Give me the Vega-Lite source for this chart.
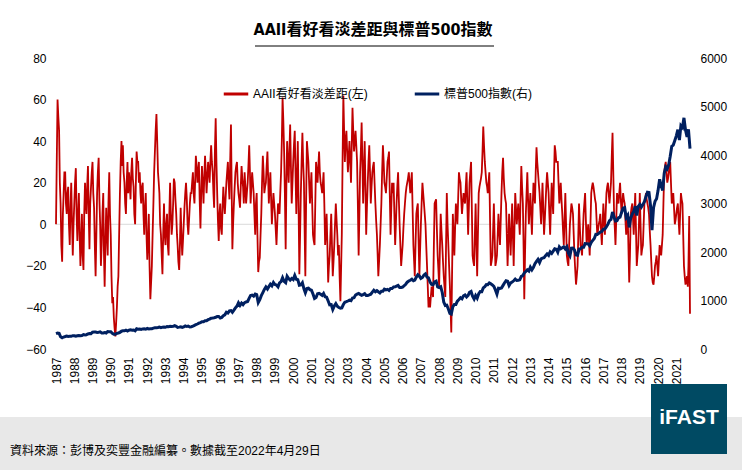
{
  "$schema": "https://vega.github.io/schema/vega-lite/v6.json",
  "width": 634,
  "height": 291,
  "autosize": {"type": "none"},
  "padding": {"left": 56, "top": 58, "right": 52, "bottom": 121},
  "background": "white",
  "config": {
    "font": "Liberation Sans, Arial, Noto Sans CJK TC, sans-serif",
    "view": {"stroke": null},
    "axisX": {
      "title": null,
      "format": "%Y",
      "labelAngle": 270,
      "labelAlign": "right",
      "labelBaseline": "middle",
      "labelFontSize": 12,
      "labelColor": "black",
      "labelPadding": 8,
      "labelOverlap": false,
      "labelFlush": false,
      "labelBound": false,
      "ticks": false,
      "domain": false,
      "grid": false
    }
  },
  "title": {
    "text": "AAII看好看淡差距與標普500指數",
    "font": "Liberation Sans Narrow, DejaVu Sans Condensed, Noto Sans CJK TC, sans-serif",
    "fontSize": 16,
    "fontWeight": "bold",
    "color": "black",
    "anchor": "middle",
    "offset": 8
  },
  "data": {
    "values": [
      {"d":"1987-07","a":0,"s":318},{"d":"1987-08","a":60,"s":330},{"d":"1987-09","a":45,"s":322},{"d":"1987-10","a":10,"s":252},{"d":"1987-11","a":-18,"s":230},{"d":"1987-12","a":15,"s":247},
      {"d":"1988-01","a":25,"s":257},{"d":"1988-02","a":5,"s":268},{"d":"1988-03","a":18,"s":259},{"d":"1988-04","a":-10,"s":261},{"d":"1988-05","a":20,"s":262},{"d":"1988-06","a":-15,"s":274},{"d":"1988-07","a":10,"s":272},{"d":"1988-08","a":27,"s":262},{"d":"1988-09","a":-8,"s":272},{"d":"1988-10","a":15,"s":279},{"d":"1988-11","a":-20,"s":274},{"d":"1988-12","a":5,"s":278},
      {"d":"1989-01","a":-22,"s":297},{"d":"1989-02","a":20,"s":289},{"d":"1989-03","a":5,"s":295},{"d":"1989-04","a":28,"s":310},{"d":"1989-05","a":-12,"s":321},{"d":"1989-06","a":18,"s":318},{"d":"1989-07","a":30,"s":346},{"d":"1989-08","a":8,"s":351},{"d":"1989-09","a":-25,"s":349},{"d":"1989-10","a":15,"s":340},{"d":"1989-11","a":32,"s":346},{"d":"1989-12","a":0,"s":353},
      {"d":"1990-01","a":-10,"s":329},{"d":"1990-02","a":15,"s":332},{"d":"1990-03","a":-30,"s":340},{"d":"1990-04","a":8,"s":331},{"d":"1990-05","a":-15,"s":361},{"d":"1990-06","a":25,"s":358},{"d":"1990-07","a":-5,"s":356},{"d":"1990-08","a":-38,"s":323},{"d":"1990-09","a":-45,"s":306},{"d":"1990-10","a":-54,"s":304},{"d":"1990-11","a":-40,"s":322},{"d":"1990-12","a":-25,"s":330},
      {"d":"1991-01","a":15,"s":344},{"d":"1991-02","a":40,"s":367},{"d":"1991-03","a":38,"s":375},{"d":"1991-04","a":20,"s":375},{"d":"1991-05","a":5,"s":390},{"d":"1991-06","a":30,"s":371},{"d":"1991-07","a":25,"s":388},{"d":"1991-08","a":12,"s":395},{"d":"1991-09","a":32,"s":388},{"d":"1991-10","a":18,"s":392},{"d":"1991-11","a":0,"s":375},{"d":"1991-12","a":35,"s":417},
      {"d":"1992-01","a":30,"s":409},{"d":"1992-02","a":25,"s":413},{"d":"1992-03","a":10,"s":404},{"d":"1992-04","a":20,"s":414},{"d":"1992-05","a":-5,"s":415},{"d":"1992-06","a":15,"s":408},{"d":"1992-07","a":-17,"s":424},{"d":"1992-08","a":5,"s":414},{"d":"1992-09","a":-36,"s":418},{"d":"1992-10","a":-20,"s":419},{"d":"1992-11","a":10,"s":431},{"d":"1992-12","a":35,"s":436},
      {"d":"1993-01","a":53,"s":439},{"d":"1993-02","a":25,"s":443},{"d":"1993-03","a":15,"s":452},{"d":"1993-04","a":-5,"s":440},{"d":"1993-05","a":-24,"s":450},{"d":"1993-06","a":10,"s":451},{"d":"1993-07","a":-10,"s":448},{"d":"1993-08","a":5,"s":464},{"d":"1993-09","a":-15,"s":459},{"d":"1993-10","a":20,"s":468},{"d":"1993-11","a":-5,"s":462},{"d":"1993-12","a":10,"s":466},
      {"d":"1994-01","a":20,"s":482},{"d":"1994-02","a":5,"s":467},{"d":"1994-03","a":-10,"s":446},{"d":"1994-04","a":-22,"s":451},{"d":"1994-05","a":8,"s":457},{"d":"1994-06","a":-15,"s":444},{"d":"1994-07","a":0,"s":458},{"d":"1994-08","a":15,"s":475},{"d":"1994-09","a":12,"s":463},{"d":"1994-10","a":-5,"s":472},{"d":"1994-11","a":10,"s":454},{"d":"1994-12","a":15,"s":459},
      {"d":"1995-01","a":25,"s":470},{"d":"1995-02","a":10,"s":487},{"d":"1995-03","a":33,"s":501},{"d":"1995-04","a":20,"s":515},{"d":"1995-05","a":30,"s":533},{"d":"1995-06","a":-2,"s":545},{"d":"1995-07","a":28,"s":562},{"d":"1995-08","a":10,"s":562},{"d":"1995-09","a":33,"s":584},{"d":"1995-10","a":15,"s":582},{"d":"1995-11","a":30,"s":605},{"d":"1995-12","a":20,"s":616},
      {"d":"1996-01","a":38,"s":636},{"d":"1996-02","a":25,"s":640},{"d":"1996-03","a":8,"s":646},{"d":"1996-04","a":51,"s":654},{"d":"1996-05","a":15,"s":669},{"d":"1996-06","a":-8,"s":671},{"d":"1996-07","a":10,"s":640},{"d":"1996-08","a":-5,"s":652},{"d":"1996-09","a":18,"s":687},{"d":"1996-10","a":5,"s":705},{"d":"1996-11","a":20,"s":757},{"d":"1996-12","a":30,"s":741},
      {"d":"1997-01","a":12,"s":786},{"d":"1997-02","a":48,"s":791},{"d":"1997-03","a":-12,"s":757},{"d":"1997-04","a":10,"s":801},{"d":"1997-05","a":25,"s":848},{"d":"1997-06","a":30,"s":885},{"d":"1997-07","a":15,"s":954},{"d":"1997-08","a":8,"s":899},{"d":"1997-09","a":28,"s":947},{"d":"1997-10","a":18,"s":915},{"d":"1997-11","a":25,"s":955},{"d":"1997-12","a":10,"s":970},
      {"d":"1998-01","a":20,"s":980},{"d":"1998-02","a":38,"s":1049},{"d":"1998-03","a":10,"s":1102},{"d":"1998-04","a":25,"s":1112},{"d":"1998-05","a":15,"s":1091},{"d":"1998-06","a":-5,"s":1134},{"d":"1998-07","a":15,"s":1121},{"d":"1998-08","a":-23,"s":957},{"d":"1998-09","a":-16,"s":1017},{"d":"1998-10","a":5,"s":1099},{"d":"1998-11","a":33,"s":1164},{"d":"1998-12","a":15,"s":1229},
      {"d":"1999-01","a":20,"s":1280},{"d":"1999-02","a":35,"s":1238},{"d":"1999-03","a":10,"s":1286},{"d":"1999-04","a":25,"s":1335},{"d":"1999-05","a":0,"s":1302},{"d":"1999-06","a":15,"s":1373},{"d":"1999-07","a":5,"s":1329},{"d":"1999-08","a":-10,"s":1320},{"d":"1999-09","a":10,"s":1283},{"d":"1999-10","a":5,"s":1363},{"d":"1999-11","a":25,"s":1389},{"d":"1999-12","a":61,"s":1469},
      {"d":"2000-01","a":35,"s":1394},{"d":"2000-02","a":-12,"s":1366},{"d":"2000-03","a":40,"s":1499},{"d":"2000-04","a":20,"s":1452},{"d":"2000-05","a":48,"s":1421},{"d":"2000-06","a":10,"s":1455},{"d":"2000-07","a":30,"s":1431},{"d":"2000-08","a":45,"s":1518},{"d":"2000-09","a":5,"s":1437},{"d":"2000-10","a":40,"s":1429},{"d":"2000-11","a":-24,"s":1315},{"d":"2000-12","a":15,"s":1320},
      {"d":"2001-01","a":44,"s":1366},{"d":"2001-02","a":20,"s":1240},{"d":"2001-03","a":-25,"s":1160},{"d":"2001-04","a":40,"s":1249},{"d":"2001-05","a":30,"s":1256},{"d":"2001-06","a":10,"s":1224},{"d":"2001-07","a":25,"s":1211},{"d":"2001-08","a":-5,"s":1134},{"d":"2001-09","a":-10,"s":1041},{"d":"2001-10","a":30,"s":1060},{"d":"2001-11","a":20,"s":1139},{"d":"2001-12","a":35,"s":1148},
      {"d":"2002-01","a":20,"s":1130},{"d":"2002-02","a":15,"s":1107},{"d":"2002-03","a":25,"s":1147},{"d":"2002-04","a":-10,"s":1077},{"d":"2002-05","a":5,"s":1067},{"d":"2002-06","a":-28,"s":990},{"d":"2002-07","a":-15,"s":912},{"d":"2002-08","a":5,"s":916},{"d":"2002-09","a":-25,"s":815},{"d":"2002-10","a":-10,"s":886},{"d":"2002-11","a":10,"s":936},{"d":"2002-12","a":-5,"s":880},
      {"d":"2003-01","a":-10,"s":856},{"d":"2003-02","a":-37,"s":841},{"d":"2003-03","a":-5,"s":848},{"d":"2003-04","a":62,"s":917},{"d":"2003-05","a":30,"s":964},{"d":"2003-06","a":45,"s":975},{"d":"2003-07","a":25,"s":990},{"d":"2003-08","a":40,"s":1008},{"d":"2003-09","a":20,"s":996},{"d":"2003-10","a":56,"s":1051},{"d":"2003-11","a":35,"s":1058},{"d":"2003-12","a":45,"s":1112},
      {"d":"2004-01","a":30,"s":1131},{"d":"2004-02","a":-15,"s":1145},{"d":"2004-03","a":25,"s":1126},{"d":"2004-04","a":49,"s":1107},{"d":"2004-05","a":10,"s":1121},{"d":"2004-06","a":40,"s":1141},{"d":"2004-07","a":-5,"s":1102},{"d":"2004-08","a":20,"s":1104},{"d":"2004-09","a":38,"s":1115},{"d":"2004-10","a":10,"s":1130},{"d":"2004-11","a":25,"s":1174},{"d":"2004-12","a":30,"s":1212},
      {"d":"2005-01","a":10,"s":1181},{"d":"2005-02","a":-5,"s":1204},{"d":"2005-03","a":-25,"s":1181},{"d":"2005-04","a":-10,"s":1157},{"d":"2005-05","a":10,"s":1192},{"d":"2005-06","a":38,"s":1191},{"d":"2005-07","a":20,"s":1234},{"d":"2005-08","a":15,"s":1220},{"d":"2005-09","a":30,"s":1229},{"d":"2005-10","a":35,"s":1207},{"d":"2005-11","a":-5,"s":1249},{"d":"2005-12","a":20,"s":1248},
      {"d":"2006-01","a":20,"s":1280},{"d":"2006-02","a":-10,"s":1281},{"d":"2006-03","a":10,"s":1295},{"d":"2006-04","a":25,"s":1311},{"d":"2006-05","a":0,"s":1270},{"d":"2006-06","a":-20,"s":1270},{"d":"2006-07","a":-10,"s":1277},{"d":"2006-08","a":5,"s":1304},{"d":"2006-09","a":15,"s":1336},{"d":"2006-10","a":20,"s":1378},{"d":"2006-11","a":25,"s":1401},{"d":"2006-12","a":15,"s":1418},
      {"d":"2007-01","a":25,"s":1438},{"d":"2007-02","a":-10,"s":1407},{"d":"2007-03","a":-25,"s":1421},{"d":"2007-04","a":5,"s":1482},{"d":"2007-05","a":10,"s":1531},{"d":"2007-06","a":-25,"s":1503},{"d":"2007-07","a":0,"s":1455},{"d":"2007-08","a":20,"s":1474},{"d":"2007-09","a":10,"s":1527},{"d":"2007-10","a":0,"s":1549},{"d":"2007-11","a":-20,"s":1481},{"d":"2007-12","a":-40,"s":1468},
      {"d":"2008-01","a":-40,"s":1379},{"d":"2008-02","a":-30,"s":1331},{"d":"2008-03","a":-35,"s":1323},{"d":"2008-04","a":10,"s":1386},{"d":"2008-05","a":12,"s":1400},{"d":"2008-06","a":-15,"s":1280},{"d":"2008-07","a":-30,"s":1267},{"d":"2008-08","a":5,"s":1283},{"d":"2008-09","a":-10,"s":1166},{"d":"2008-10","a":-25,"s":969},{"d":"2008-11","a":-35,"s":896},{"d":"2008-12","a":15,"s":903},
      {"d":"2009-01","a":-10,"s":826},{"d":"2009-02","a":-30,"s":735},{"d":"2009-03","a":-52,"s":720},{"d":"2009-04","a":5,"s":873},{"d":"2009-05","a":-15,"s":919},{"d":"2009-06","a":10,"s":919},{"d":"2009-07","a":0,"s":987},{"d":"2009-08","a":25,"s":1021},{"d":"2009-09","a":20,"s":1057},{"d":"2009-10","a":5,"s":1036},{"d":"2009-11","a":15,"s":1096},{"d":"2009-12","a":10,"s":1115},
      {"d":"2010-01","a":25,"s":1074},{"d":"2010-02","a":-5,"s":1104},{"d":"2010-03","a":20,"s":1169},{"d":"2010-04","a":30,"s":1187},{"d":"2010-05","a":-15,"s":1089},{"d":"2010-06","a":-20,"s":1031},{"d":"2010-07","a":10,"s":1102},{"d":"2010-08","a":-25,"s":1049},{"d":"2010-09","a":15,"s":1141},{"d":"2010-10","a":20,"s":1183},{"d":"2010-11","a":25,"s":1181},{"d":"2010-12","a":47,"s":1258},
      {"d":"2011-01","a":30,"s":1286},{"d":"2011-02","a":20,"s":1327},{"d":"2011-03","a":15,"s":1326},{"d":"2011-04","a":25,"s":1364},{"d":"2011-05","a":-20,"s":1345},{"d":"2011-06","a":-15,"s":1321},{"d":"2011-07","a":10,"s":1292},{"d":"2011-08","a":-20,"s":1219},{"d":"2011-09","a":-15,"s":1131},{"d":"2011-10","a":5,"s":1253},{"d":"2011-11","a":-10,"s":1247},{"d":"2011-12","a":15,"s":1258},
      {"d":"2012-01","a":32,"s":1312},{"d":"2012-02","a":15,"s":1366},{"d":"2012-03","a":10,"s":1408},{"d":"2012-04","a":-20,"s":1398},{"d":"2012-05","a":5,"s":1310},{"d":"2012-06","a":-15,"s":1362},{"d":"2012-07","a":10,"s":1379},{"d":"2012-08","a":-20,"s":1407},{"d":"2012-09","a":15,"s":1441},{"d":"2012-10","a":0,"s":1412},{"d":"2012-11","a":10,"s":1416},{"d":"2012-12","a":-5,"s":1426},
      {"d":"2013-01","a":28,"s":1498},{"d":"2013-02","a":10,"s":1515},{"d":"2013-03","a":-36,"s":1569},{"d":"2013-04","a":5,"s":1598},{"d":"2013-05","a":25,"s":1631},{"d":"2013-06","a":0,"s":1606},{"d":"2013-07","a":15,"s":1686},{"d":"2013-08","a":-5,"s":1633},{"d":"2013-09","a":20,"s":1682},{"d":"2013-10","a":10,"s":1757},{"d":"2013-11","a":37,"s":1806},{"d":"2013-12","a":25,"s":1848},
      {"d":"2014-01","a":15,"s":1783},{"d":"2014-02","a":0,"s":1859},{"d":"2014-03","a":20,"s":1872},{"d":"2014-04","a":-5,"s":1884},{"d":"2014-05","a":10,"s":1924},{"d":"2014-06","a":25,"s":1960},{"d":"2014-07","a":15,"s":1931},{"d":"2014-08","a":-5,"s":2003},{"d":"2014-09","a":20,"s":1972},{"d":"2014-10","a":5,"s":2018},{"d":"2014-11","a":38,"s":2068},{"d":"2014-12","a":30,"s":2059},
      {"d":"2015-01","a":30,"s":1995},{"d":"2015-02","a":10,"s":2105},{"d":"2015-03","a":20,"s":2068},{"d":"2015-04","a":5,"s":2086},{"d":"2015-05","a":-10,"s":2107},{"d":"2015-06","a":15,"s":2063},{"d":"2015-07","a":-15,"s":2104},{"d":"2015-08","a":-20,"s":1972},{"d":"2015-09","a":0,"s":1920},{"d":"2015-10","a":10,"s":2079},{"d":"2015-11","a":5,"s":2080},{"d":"2015-12","a":-15,"s":2044},
      {"d":"2016-01","a":-29,"s":1940},{"d":"2016-02","a":-20,"s":1932},{"d":"2016-03","a":10,"s":2060},{"d":"2016-04","a":-10,"s":2065},{"d":"2016-05","a":-15,"s":2097},{"d":"2016-06","a":5,"s":2099},{"d":"2016-07","a":15,"s":2174},{"d":"2016-08","a":-10,"s":2171},{"d":"2016-09","a":0,"s":2168},{"d":"2016-10","a":-15,"s":2126},{"d":"2016-11","a":15,"s":2199},{"d":"2016-12","a":20,"s":2239},
      {"d":"2017-01","a":15,"s":2279},{"d":"2017-02","a":10,"s":2364},{"d":"2017-03","a":-5,"s":2363},{"d":"2017-04","a":0,"s":2384},{"d":"2017-05","a":5,"s":2412},{"d":"2017-06","a":-10,"s":2423},{"d":"2017-07","a":10,"s":2470},{"d":"2017-08","a":-5,"s":2472},{"d":"2017-09","a":15,"s":2519},{"d":"2017-10","a":20,"s":2575},{"d":"2017-11","a":10,"s":2648},{"d":"2017-12","a":20,"s":2674},
      {"d":"2018-01","a":44,"s":2824},{"d":"2018-02","a":5,"s":2714},{"d":"2018-03","a":-10,"s":2641},{"d":"2018-04","a":15,"s":2648},{"d":"2018-05","a":10,"s":2705},{"d":"2018-06","a":20,"s":2718},{"d":"2018-07","a":5,"s":2816},{"d":"2018-08","a":15,"s":2902},{"d":"2018-09","a":10,"s":2914},{"d":"2018-10","a":-5,"s":2712},{"d":"2018-11","a":5,"s":2760},{"d":"2018-12","a":-28,"s":2507},
      {"d":"2019-01","a":5,"s":2704},{"d":"2019-02","a":10,"s":2784},{"d":"2019-03","a":-5,"s":2834},{"d":"2019-04","a":15,"s":2946},{"d":"2019-05","a":-20,"s":2752},{"d":"2019-06","a":-10,"s":2942},{"d":"2019-07","a":15,"s":2980},{"d":"2019-08","a":-15,"s":2926},{"d":"2019-09","a":-10,"s":2977},{"d":"2019-10","a":10,"s":3038},{"d":"2019-11","a":15,"s":3141},{"d":"2019-12","a":10,"s":3231},
      {"d":"2020-01","a":5,"s":3226},{"d":"2020-02","a":-10,"s":2954},{"d":"2020-03","a":-25,"s":2450},{"d":"2020-04","a":-29,"s":2912},{"d":"2020-05","a":-20,"s":3044},{"d":"2020-06","a":-15,"s":3100},{"d":"2020-07","a":-25,"s":3271},{"d":"2020-08","a":-10,"s":3500},{"d":"2020-09","a":-15,"s":3363},{"d":"2020-10","a":-5,"s":3270},{"d":"2020-11","a":25,"s":3622},{"d":"2020-12","a":30,"s":3756},
      {"d":"2021-01","a":20,"s":3714},{"d":"2021-02","a":25,"s":3811},{"d":"2021-03","a":30,"s":3973},{"d":"2021-04","a":10,"s":4181},{"d":"2021-05","a":15,"s":4204},{"d":"2021-06","a":0,"s":4298},{"d":"2021-07","a":5,"s":4395},{"d":"2021-08","a":10,"s":4523},{"d":"2021-09","a":-5,"s":4308},{"d":"2021-10","a":15,"s":4605},{"d":"2021-11","a":10,"s":4567},{"d":"2021-12","a":-20,"s":4766},
      {"d":"2022-01","a":-29,"s":4516},{"d":"2022-02","a":-25,"s":4374},{"d":"2022-03","a":-20,"s":4530},{"d":"2022-04","a":-43,"s":4132},
      {"d":"1987-07-16","a":30},{"d":"1987-08-16","a":52},{"d":"1987-09-16","a":20},{"d":"1987-10-16","a":-10},{"d":"1987-11-16","a":5},{"d":"1987-12-16","a":25},
      {"d":"1988-01-16","a":10},{"d":"1988-02-16","a":15},{"d":"1988-03-16","a":0},{"d":"1988-04-16","a":8},{"d":"1988-05-16","a":2},{"d":"1988-06-16","a":0},{"d":"1988-07-16","a":20},{"d":"1988-08-16","a":5},{"d":"1988-09-16","a":5},{"d":"1988-10-16","a":-5},{"d":"1988-11-16","a":-8},{"d":"1988-12-16","a":-15},
      {"d":"1989-01-16","a":5},{"d":"1989-02-16","a":10},{"d":"1989-03-16","a":18},{"d":"1989-04-16","a":5},{"d":"1989-05-16","a":10},{"d":"1989-06-16","a":25},{"d":"1989-07-16","a":15},{"d":"1989-08-16","a":-10},{"d":"1989-09-16","a":-5},{"d":"1989-10-16","a":25},{"d":"1989-11-16","a":12},{"d":"1989-12-16","a":-20},
      {"d":"1990-01-16","a":5},{"d":"1990-02-16","a":-15},{"d":"1990-03-16","a":-10},{"d":"1990-04-16","a":-5},{"d":"1990-05-16","a":10},{"d":"1990-06-16","a":5},{"d":"1990-07-16","a":-25},{"d":"1990-08-16","a":-35},{"d":"1990-09-16","a":-50},{"d":"1990-10-16","a":-48},{"d":"1990-11-16","a":-30},{"d":"1990-12-16","a":-5},
      {"d":"1991-01-16","a":30},{"d":"1991-02-16","a":28},{"d":"1991-03-16","a":25},{"d":"1991-04-16","a":10},{"d":"1991-05-16","a":20},{"d":"1991-06-16","a":15},{"d":"1991-07-16","a":20},{"d":"1991-08-16","a":25},{"d":"1991-09-16","a":22},{"d":"1991-10-16","a":5},{"d":"1991-11-16","a":20},{"d":"1991-12-16","a":30},
      {"d":"1992-01-16","a":20},{"d":"1992-02-16","a":15},{"d":"1992-03-16","a":18},{"d":"1992-04-16","a":5},{"d":"1992-05-16","a":8},{"d":"1992-06-16","a":-5},{"d":"1992-07-16","a":-8},{"d":"1992-08-16","a":-20},{"d":"1992-09-16","a":-28},{"d":"1992-10-16","a":-5},{"d":"1992-11-16","a":25},{"d":"1992-12-16","a":45},
      {"d":"1993-01-16","a":40},{"d":"1993-02-16","a":20},{"d":"1993-03-16","a":0},{"d":"1993-04-16","a":-15},{"d":"1993-05-16","a":-5},{"d":"1993-06-16","a":-5},{"d":"1993-07-16","a":0},{"d":"1993-08-16","a":-10},{"d":"1993-09-16","a":5},{"d":"1993-10-16","a":5},{"d":"1993-11-16","a":0},{"d":"1993-12-16","a":22},
      {"d":"1994-01-16","a":12},{"d":"1994-02-16","a":-5},{"d":"1994-03-16","a":-18},{"d":"1994-04-16","a":-10},{"d":"1994-05-16","a":-5},{"d":"1994-06-16","a":-8},{"d":"1994-07-16","a":8},{"d":"1994-08-16","a":20},{"d":"1994-09-16","a":0},{"d":"1994-10-16","a":2},{"d":"1994-11-16","a":15},{"d":"1994-12-16","a":20},
      {"d":"1995-01-16","a":15},{"d":"1995-02-16","a":22},{"d":"1995-03-16","a":28},{"d":"1995-04-16","a":25},{"d":"1995-05-16","a":12},{"d":"1995-06-16","a":15},{"d":"1995-07-16","a":20},{"d":"1995-08-16","a":22},{"d":"1995-09-16","a":25},{"d":"1995-10-16","a":22},{"d":"1995-11-16","a":25},{"d":"1995-12-16","a":30},
      {"d":"1996-01-16","a":30},{"d":"1996-02-16","a":15},{"d":"1996-03-16","a":35},{"d":"1996-04-16","a":30},{"d":"1996-05-16","a":2},{"d":"1996-06-16","a":5},{"d":"1996-07-16","a":-2},{"d":"1996-08-16","a":8},{"d":"1996-09-16","a":10},{"d":"1996-10-16","a":12},{"d":"1996-11-16","a":25},{"d":"1996-12-16","a":20},
      {"d":"1997-01-16","a":30},{"d":"1997-02-16","a":15},{"d":"1997-03-16","a":0},{"d":"1997-04-16","a":18},{"d":"1997-05-16","a":28},{"d":"1997-06-16","a":20},{"d":"1997-07-16","a":12},{"d":"1997-08-16","a":18},{"d":"1997-09-16","a":22},{"d":"1997-10-16","a":10},{"d":"1997-11-16","a":18},{"d":"1997-12-16","a":15},
      {"d":"1998-01-16","a":28},{"d":"1998-02-16","a":25},{"d":"1998-03-16","a":18},{"d":"1998-04-16","a":20},{"d":"1998-05-16","a":5},{"d":"1998-06-16","a":10},{"d":"1998-07-16","a":-5},{"d":"1998-08-16","a":-18},{"d":"1998-09-16","a":-5},{"d":"1998-10-16","a":20},{"d":"1998-11-16","a":25},{"d":"1998-12-16","a":18},
      {"d":"1999-01-16","a":28},{"d":"1999-02-16","a":22},{"d":"1999-03-16","a":18},{"d":"1999-04-16","a":12},{"d":"1999-05-16","a":8},{"d":"1999-06-16","a":10},{"d":"1999-07-16","a":-2},{"d":"1999-08-16","a":0},{"d":"1999-09-16","a":8},{"d":"1999-10-16","a":15},{"d":"1999-11-16","a":40},{"d":"1999-12-16","a":50},
      {"d":"2000-01-16","a":15},{"d":"2000-02-16","a":20},{"d":"2000-03-16","a":30},{"d":"2000-04-16","a":35},{"d":"2000-05-16","a":28},{"d":"2000-06-16","a":20},{"d":"2000-07-16","a":38},{"d":"2000-08-16","a":25},{"d":"2000-09-16","a":22},{"d":"2000-10-16","a":10},{"d":"2000-11-16","a":-5},{"d":"2000-12-16","a":30},
      {"d":"2001-01-16","a":30},{"d":"2001-02-16","a":-5},{"d":"2001-03-16","a":10},{"d":"2001-04-16","a":35},{"d":"2001-05-16","a":20},{"d":"2001-06-16","a":18},{"d":"2001-07-16","a":10},{"d":"2001-08-16","a":-8},{"d":"2001-09-16","a":10},{"d":"2001-10-16","a":25},{"d":"2001-11-16","a":28},{"d":"2001-12-16","a":25},
      {"d":"2002-01-16","a":18},{"d":"2002-02-16","a":20},{"d":"2002-03-16","a":10},{"d":"2002-04-16","a":-3},{"d":"2002-05-16","a":-10},{"d":"2002-06-16","a":-20},{"d":"2002-07-16","a":-5},{"d":"2002-08-16","a":-10},{"d":"2002-09-16","a":-18},{"d":"2002-10-16","a":0},{"d":"2002-11-16","a":2},{"d":"2002-12-16","a":-15},
      {"d":"2003-01-16","a":-25},{"d":"2003-02-16","a":-20},{"d":"2003-03-16","a":30},{"d":"2003-04-16","a":45},{"d":"2003-05-16","a":40},{"d":"2003-06-16","a":35},{"d":"2003-07-16","a":32},{"d":"2003-08-16","a":30},{"d":"2003-09-16","a":38},{"d":"2003-10-16","a":45},{"d":"2003-11-16","a":40},{"d":"2003-12-16","a":38},
      {"d":"2004-01-16","a":10},{"d":"2004-02-16","a":5},{"d":"2004-03-16","a":35},{"d":"2004-04-16","a":30},{"d":"2004-05-16","a":25},{"d":"2004-06-16","a":18},{"d":"2004-07-16","a":8},{"d":"2004-08-16","a":30},{"d":"2004-09-16","a":25},{"d":"2004-10-16","a":18},{"d":"2004-11-16","a":28},{"d":"2004-12-16","a":20},
      {"d":"2005-01-16","a":2},{"d":"2005-02-16","a":-15},{"d":"2005-03-16","a":-18},{"d":"2005-04-16","a":0},{"d":"2005-05-16","a":25},{"d":"2005-06-16","a":30},{"d":"2005-07-16","a":18},{"d":"2005-08-16","a":22},{"d":"2005-09-16","a":32},{"d":"2005-10-16","a":15},{"d":"2005-11-16","a":8},{"d":"2005-12-16","a":15},
      {"d":"2006-01-16","a":5},{"d":"2006-02-16","a":0},{"d":"2006-03-16","a":18},{"d":"2006-04-16","a":12},{"d":"2006-05-16","a":-10},{"d":"2006-06-16","a":-15},{"d":"2006-07-16","a":-2},{"d":"2006-08-16","a":10},{"d":"2006-09-16","a":18},{"d":"2006-10-16","a":22},{"d":"2006-11-16","a":20},{"d":"2006-12-16","a":20},
      {"d":"2007-01-16","a":8},{"d":"2007-02-16","a":-18},{"d":"2007-03-16","a":-10},{"d":"2007-04-16","a":8},{"d":"2007-05-16","a":-8},{"d":"2007-06-16","a":-12},{"d":"2007-07-16","a":10},{"d":"2007-08-16","a":15},{"d":"2007-09-16","a":5},{"d":"2007-10-16","a":-10},{"d":"2007-11-16","a":-30},{"d":"2007-12-16","a":-35},
      {"d":"2008-01-16","a":-35},{"d":"2008-02-16","a":-32},{"d":"2008-03-16","a":-12},{"d":"2008-04-16","a":11},{"d":"2008-05-16","a":-2},{"d":"2008-06-16","a":-22},{"d":"2008-07-16","a":-12},{"d":"2008-08-16","a":-3},{"d":"2008-09-16","a":-18},{"d":"2008-10-16","a":-30},{"d":"2008-11-16","a":-10},{"d":"2008-12-16","a":0},
      {"d":"2009-01-16","a":-20},{"d":"2009-02-16","a":-42},{"d":"2009-03-16","a":-25},{"d":"2009-04-16","a":-5},{"d":"2009-05-16","a":-2},{"d":"2009-06-16","a":5},{"d":"2009-07-16","a":12},{"d":"2009-08-16","a":22},{"d":"2009-09-16","a":12},{"d":"2009-10-16","a":10},{"d":"2009-11-16","a":12},{"d":"2009-12-16","a":18},
      {"d":"2010-01-16","a":10},{"d":"2010-02-16","a":8},{"d":"2010-03-16","a":25},{"d":"2010-04-16","a":8},{"d":"2010-05-16","a":-18},{"d":"2010-06-16","a":-5},{"d":"2010-07-16","a":-8},{"d":"2010-08-16","a":-5},{"d":"2010-09-16","a":18},{"d":"2010-10-16","a":22},{"d":"2010-11-16","a":35},{"d":"2010-12-16","a":38},
      {"d":"2011-01-16","a":25},{"d":"2011-02-16","a":18},{"d":"2011-03-16","a":20},{"d":"2011-04-16","a":2},{"d":"2011-05-16","a":-18},{"d":"2011-06-16","a":-3},{"d":"2011-07-16","a":-5},{"d":"2011-08-16","a":-18},{"d":"2011-09-16","a":-5},{"d":"2011-10-16","a":-3},{"d":"2011-11-16","a":2},{"d":"2011-12-16","a":25},
      {"d":"2012-01-16","a":22},{"d":"2012-02-16","a":12},{"d":"2012-03-16","a":-5},{"d":"2012-04-16","a":-8},{"d":"2012-05-16","a":-5},{"d":"2012-06-16","a":-3},{"d":"2012-07-16","a":-5},{"d":"2012-08-16","a":-3},{"d":"2012-09-16","a":8},{"d":"2012-10-16","a":5},{"d":"2012-11-16","a":2},{"d":"2012-12-16","a":12},
      {"d":"2013-01-16","a":18},{"d":"2013-02-16","a":-12},{"d":"2013-03-16","a":-15},{"d":"2013-04-16","a":15},{"d":"2013-05-16","a":12},{"d":"2013-06-16","a":8},{"d":"2013-07-16","a":5},{"d":"2013-08-16","a":8},{"d":"2013-09-16","a":15},{"d":"2013-10-16","a":25},{"d":"2013-11-16","a":30},{"d":"2013-12-16","a":20},
      {"d":"2014-01-16","a":8},{"d":"2014-02-16","a":10},{"d":"2014-03-16","a":8},{"d":"2014-04-16","a":2},{"d":"2014-05-16","a":18},{"d":"2014-06-16","a":20},{"d":"2014-07-16","a":5},{"d":"2014-08-16","a":8},{"d":"2014-09-16","a":12},{"d":"2014-10-16","a":22},{"d":"2014-11-16","a":35},{"d":"2014-12-16","a":30},
      {"d":"2015-01-16","a":20},{"d":"2015-02-16","a":15},{"d":"2015-03-16","a":12},{"d":"2015-04-16","a":-3},{"d":"2015-05-16","a":2},{"d":"2015-06-16","a":0},{"d":"2015-07-16","a":-18},{"d":"2015-08-16","a":-10},{"d":"2015-09-16","a":5},{"d":"2015-10-16","a":8},{"d":"2015-11-16","a":-5},{"d":"2015-12-16","a":-22},
      {"d":"2016-01-16","a":-25},{"d":"2016-02-16","a":-5},{"d":"2016-03-16","a":0},{"d":"2016-04-16","a":-12},{"d":"2016-05-16","a":-5},{"d":"2016-06-16","a":10},{"d":"2016-07-16","a":2},{"d":"2016-08-16","a":-5},{"d":"2016-09-16","a":-8},{"d":"2016-10-16","a":0},{"d":"2016-11-16","a":18},{"d":"2016-12-16","a":18},
      {"d":"2017-01-16","a":12},{"d":"2017-02-16","a":2},{"d":"2017-03-16","a":-3},{"d":"2017-04-16","a":2},{"d":"2017-05-16","a":-3},{"d":"2017-06-16","a":0},{"d":"2017-07-16","a":2},{"d":"2017-08-16","a":5},{"d":"2017-09-16","a":18},{"d":"2017-10-16","a":15},{"d":"2017-11-16","a":15},{"d":"2017-12-16","a":32},
      {"d":"2018-01-16","a":25},{"d":"2018-02-16","a":-2},{"d":"2018-03-16","a":2},{"d":"2018-04-16","a":12},{"d":"2018-05-16","a":15},{"d":"2018-06-16","a":12},{"d":"2018-07-16","a":10},{"d":"2018-08-16","a":12},{"d":"2018-09-16","a":2},{"d":"2018-10-16","a":0},{"d":"2018-11-16","a":-12},{"d":"2018-12-16","a":-15},
      {"d":"2019-01-16","a":8},{"d":"2019-02-16","a":2},{"d":"2019-03-16","a":5},{"d":"2019-04-16","a":-3},{"d":"2019-05-16","a":-15},{"d":"2019-06-16","a":2},{"d":"2019-07-16","a":0},{"d":"2019-08-16","a":-12},{"d":"2019-09-16","a":0},{"d":"2019-10-16","a":12},{"d":"2019-11-16","a":12},{"d":"2019-12-16","a":8},
      {"d":"2020-01-16","a":-3},{"d":"2020-02-16","a":-18},{"d":"2020-03-16","a":-28},{"d":"2020-04-16","a":-25},{"d":"2020-05-16","a":-18},{"d":"2020-06-16","a":-20},{"d":"2020-07-16","a":-18},{"d":"2020-08-16","a":-12},{"d":"2020-09-16","a":-10},{"d":"2020-10-16","a":10},{"d":"2020-11-16","a":28},{"d":"2020-12-16","a":25},
      {"d":"2021-01-16","a":22},{"d":"2021-02-16","a":28},{"d":"2021-03-16","a":20},{"d":"2021-04-16","a":12},{"d":"2021-05-16","a":8},{"d":"2021-06-16","a":2},{"d":"2021-07-16","a":8},{"d":"2021-08-16","a":2},{"d":"2021-09-16","a":5},{"d":"2021-10-16","a":12},{"d":"2021-11-16","a":-5},{"d":"2021-12-16","a":-25},
      {"d":"2022-01-16","a":-27},{"d":"2022-02-16","a":-30},{"d":"2022-03-16","a":4}
    ]
  },
  "layer": [
    {
      "data": {"values": [{}]},
      "mark": {"type": "rect", "fill": "#e8e8e8"},
      "encoding": {
        "x": {"value": -56},
        "x2": {"value": 686},
        "y": {"value": 359},
        "y2": {"value": 412}
      }
    },
    {
      "layer": [
        {
          "data": {"values": [{}]},
          "mark": {"type": "rule", "color": "#d9d9d9", "strokeWidth": 1},
          "encoding": {"y": {"datum": 0, "type": "quantitative"}}
        },
        {
          "mark": {"type": "line", "strokeWidth": 1.8},
          "encoding": {
            "x": {
              "field": "d",
              "type": "temporal",
              "scale": {"type": "utc", "domain": ["1987-07-01", "2022-04-01"], "nice": false},
              "axis": {
                "values": ["1987-07-01", "1988-07-01", "1989-07-01", "1990-07-01", "1991-07-01", "1992-07-01", "1993-07-01", "1994-07-01", "1995-07-01", "1996-07-01", "1997-07-01", "1998-07-01", "1999-07-01", "2000-07-01", "2001-07-01", "2002-07-01", "2003-07-01", "2004-07-01", "2005-07-01", "2006-07-01", "2007-07-01", "2008-07-01", "2009-07-01", "2010-07-01", "2011-07-01", "2012-07-01", "2013-07-01", "2014-07-01", "2015-07-01", "2016-07-01", "2017-07-01", "2018-07-01", "2019-07-01", "2020-07-01", "2021-07-01"],
                "labelOverlap": false,
                "tickCount": 40
              }
            },
            "y": {
              "field": "a",
              "type": "quantitative",
              "scale": {"domain": [-60, 80], "nice": false, "zero": false},
              "axis": {
                "orient": "left",
                "title": null,
                "values": [-60, -40, -20, 0, 20, 40, 60, 80],
                "labelFontSize": 12,
                "labelColor": "black",
                "labelPadding": 10,
                "ticks": false,
                "domain": false,
                "grid": false
              }
            },
            "color": {"datum": "AAII看好看淡差距(左)"}
          }
        }
      ]
    },
    {
      "transform": [{"filter": "isValid(datum.s)"}],
      "mark": {"type": "line", "strokeWidth": 3},
      "encoding": {
        "x": {
          "field": "d",
          "type": "temporal",
          "axis": {
            "values": ["1987-07-01", "1988-07-01", "1989-07-01", "1990-07-01", "1991-07-01", "1992-07-01", "1993-07-01", "1994-07-01", "1995-07-01", "1996-07-01", "1997-07-01", "1998-07-01", "1999-07-01", "2000-07-01", "2001-07-01", "2002-07-01", "2003-07-01", "2004-07-01", "2005-07-01", "2006-07-01", "2007-07-01", "2008-07-01", "2009-07-01", "2010-07-01", "2011-07-01", "2012-07-01", "2013-07-01", "2014-07-01", "2015-07-01", "2016-07-01", "2017-07-01", "2018-07-01", "2019-07-01", "2020-07-01", "2021-07-01"],
            "labelOverlap": false,
            "tickCount": 40
          }
        },
        "y": {
          "field": "s",
          "type": "quantitative",
          "scale": {"domain": [0, 6000], "nice": false},
          "axis": {
            "orient": "right",
            "title": null,
            "values": [0, 1000, 2000, 3000, 4000, 5000, 6000],
            "format": "d",
            "labelFontSize": 12,
            "labelColor": "black",
            "labelPadding": 10,
            "ticks": false,
            "domain": false,
            "grid": false
          }
        },
        "color": {
          "datum": "標普500指數(右)",
          "scale": {
            "domain": ["AAII看好看淡差距(左)", "標普500指數(右)"],
            "range": ["#c00000", "#002060"]
          },
          "legend": {
            "title": null,
            "orient": "none",
            "direction": "horizontal",
            "legendX": 166,
            "legendY": 22,
            "symbolType": "stroke",
            "symbolStrokeWidth": 3,
            "symbolSize": 600,
            "labelFontSize": 12,
            "labelColor": "black",
            "labelOffset": 3,
            "columnPadding": 40,
            "labelLimit": 300
          }
        }
      }
    },
    {
      "data": {"values": [{}]},
      "mark": {"type": "rule", "color": "black", "strokeWidth": 1},
      "encoding": {
        "x": {"value": 199},
        "x2": {"value": 438},
        "y": {"value": -12}
      }
    },
    {
      "data": {"values": [{}]},
      "mark": {"type": "rect", "fill": "#004a63"},
      "encoding": {
        "x": {"value": 595},
        "x2": {"value": 671},
        "y": {"value": 326},
        "y2": {"value": 396}
      }
    },
    {
      "data": {"values": [{"t": "iFAST"}]},
      "mark": {"type": "text", "color": "white", "fontSize": 21, "fontWeight": "bold", "font": "Liberation Sans, Arial, sans-serif", "align": "center", "baseline": "middle"},
      "encoding": {
        "x": {"value": 633},
        "y": {"value": 360},
        "text": {"field": "t"}
      }
    },
    {
      "data": {"values": [{"t": "資料來源：彭博及奕豐金融編纂。數據截至2022年4月29日"}]},
      "mark": {"type": "text", "color": "black", "fontSize": 12, "align": "left", "baseline": "middle"},
      "encoding": {
        "x": {"value": -46},
        "y": {"value": 393},
        "text": {"field": "t"}
      }
    }
  ],
  "resolve": {"scale": {"y": "independent"}}
}
